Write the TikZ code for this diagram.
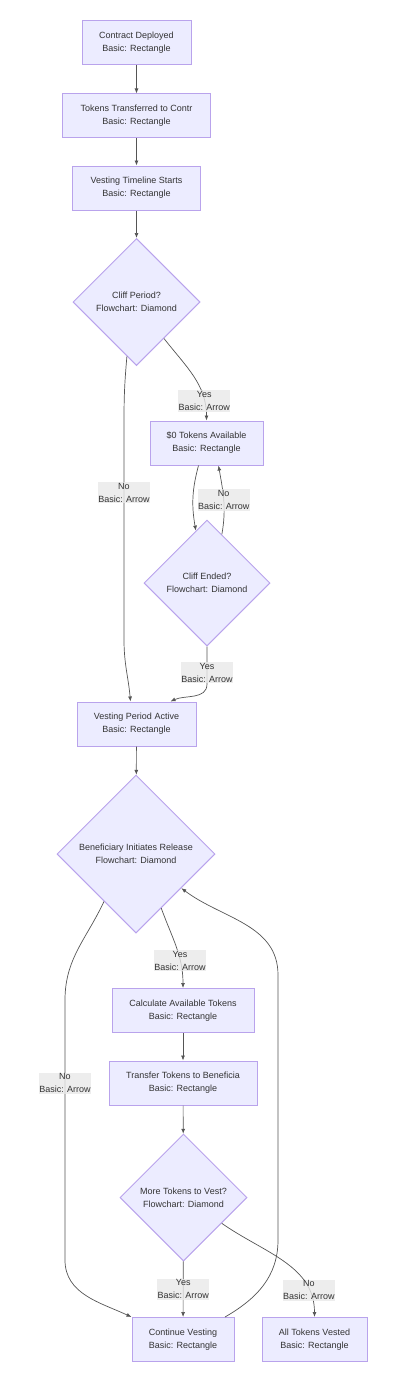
\documentclass[tikz,border=0pt]{standalone}
\usepackage{fontspec}
\setmainfont{Liberation Sans}
\usetikzlibrary{shapes.geometric,arrows.meta}
\definecolor{boxfill}{HTML}{ECECFF}
\definecolor{boxline}{HTML}{B9A3EC}
\definecolor{edgeline}{HTML}{555555}
\definecolor{labelbg}{HTML}{E8E8E8}
\definecolor{textcol}{HTML}{333333}
\begin{document}
\begin{tikzpicture}[x=1pt, y=1pt,
    every node/.style={font=\fontsize{9}{13}\selectfont, text=textcol, align=center},
    box/.style={draw=boxline, fill=boxfill, line width=1pt, minimum height=44pt, inner sep=1pt},
    decision/.style={draw=boxline, fill=boxfill, line width=1pt, shape=diamond, aspect=1, inner sep=0pt},
    edge/.style={draw=edgeline, line width=0.7pt, -{Latex[length=5pt,width=4pt]}},
    lbl/.style={fill=labelbg, fill opacity=0.8, text opacity=1, inner xsep=0.5pt, inner ysep=1pt}]
        \useasboundingbox (0,0) rectangle (405,-1394);
        \node [box, minimum width=109pt] (deployed) at (136.5,-43) {Contract Deployed\\Basic: Rectangle};
        \node [box, minimum width=148pt] (transferred) at (136.5,-116) {Tokens Transferred to Contr\\Basic: Rectangle};
        \node [box, minimum width=128pt] (timeline) at (136.5,-188) {Vesting Timeline Starts\\Basic: Rectangle};
        \node [decision, minimum size=127pt] (cliff) at (136.5,-302) {Cliff Period?\\Flowchart: Diamond};
        \node [box, minimum width=113pt] (zero-avail) at (206.5,-443) {\$0 Tokens Available\\Basic: Rectangle};
        \node [decision, minimum size=126pt] (cliff-ended) at (207,-583) {Cliff Ended?\\Flowchart: Diamond};
        \node [box, minimum width=119pt] (vesting-active) at (136.5,-724) {Vesting Period Active\\Basic: Rectangle};
        \node [decision, minimum size=158pt] (release) at (136,-854) {Beneficiary Initiates Release\\Flowchart: Diamond};
        \node [box, minimum width=142pt] (calculate) at (183,-1010.5) {Calculate Available Tokens\\Basic: Rectangle};
        \node [box, minimum width=148pt] (transfer) at (183,-1083) {Transfer Tokens to Beneficia\\Basic: Rectangle};
        \node [decision, minimum size=127pt] (more-tokens) at (183.5,-1197.5) {More Tokens to Vest?\\Flowchart: Diamond};
        \node [box, minimum width=102pt] (continue) at (183,-1339.5) {Continue Vesting\\Basic: Rectangle};
        \node [box, minimum width=105pt] (all-vested) at (314.5,-1339.5) {All Tokens Vested\\Basic: Rectangle};
        % top of the flow
        \draw [edge] (deployed) -- (transferred);
        \draw [edge] (transferred) -- (timeline);
        \draw [edge] (timeline) -- (cliff);
        % cliff loop
        \draw [edge] (cliff.-53) to[out=-52,in=90] node[lbl, pos=0.8] {Yes\\Basic: Arrow} (zero-avail.north);
        \draw [edge] (cliff.-100) to[out=-95,in=90] (124,-420) -- node[lbl, pos=0.33] {No\\Basic: Arrow} (124,-640) to[out=-90,in=95] ([xshift=-6pt]vesting-active.north);
        \draw [edge] ([xshift=-8pt]zero-avail.south) to[out=-105,in=100] (cliff-ended.102);
        \draw [edge] (cliff-ended.73) to[out=80,in=-80] node[lbl, pos=0.5] {No\\Basic: Arrow} ([xshift=12pt]zero-avail.south);
        \draw [edge] (cliff-ended.south) -- node[lbl, pos=0.7] {Yes\\Basic: Arrow} (207,-684) to[out=-90,in=25] ([xshift=34pt]vesting-active.north);
        \draw [edge] (vesting-active) -- (release);
        % release loop
        \draw [edge] (release.-65) to[out=-70,in=90] node[lbl, pos=0.68] {Yes\\Basic: Arrow} (calculate.north);
        \draw [edge] (release.-124) to[out=-115,in=90] (65,-1000) -- node[lbl, pos=0.32] {No\\Basic: Arrow} (65,-1260) to[out=-90,in=155] (continue.north west);
        \draw [edge] (calculate) -- (transfer);
        \draw [edge] (transfer) -- (more-tokens);
        \draw [edge] (more-tokens) -- node[lbl] {Yes\\Basic: Arrow} (continue);
        \draw [edge] (more-tokens.-34) to[out=-35,in=90] node[lbl, pos=0.8] {No\\Basic: Arrow} (all-vested.north);
        \draw [edge] ([xshift=42pt]continue.north) to[out=30,in=-90] (278,-1240) -- (278,-975) to[out=90,in=-37] (release.-37);
    \end{tikzpicture}
\end{document}
